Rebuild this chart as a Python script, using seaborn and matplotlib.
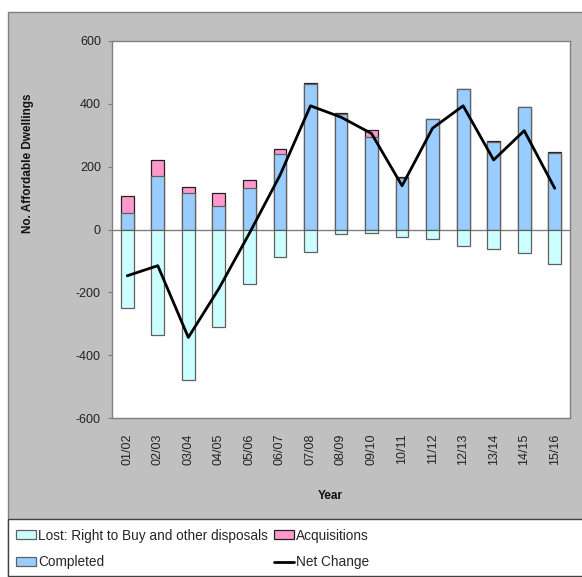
import numpy as np
import pandas as pd
import matplotlib
matplotlib.use("Agg")
import matplotlib.pyplot as plt
import seaborn as sns
from matplotlib.patches import Rectangle, Patch
from matplotlib.lines import Line2D

# Affordable dwellings by financial year
years = ["01/02", "02/03", "03/04", "04/05", "05/06", "06/07", "07/08", "08/09",
         "09/10", "10/11", "11/12", "12/13", "13/14", "14/15", "15/16"]
completed = [53, 170, 116, 76, 133, 240, 462, 368, 295, 163, 350, 445, 279, 389, 242]
acquisitions = [55, 50, 20, 40, 23, 15, 3, 3, 20, 3, 0, 3, 3, 0, 3]
lost = [-251, -335, -478, -309, -173, -87, -71, -13, -11, -25, -29, -51, -62, -74, -110]
net_change = [-147, -115, -343, -188, -12, 172, 393, 357, 305, 139, 322, 393, 221, 314, 131]

C_LOST = "#CCFFFF"
C_DONE = "#99CCFF"
C_ACQ = "#FF99CC"
GREY = "#C0C0C0"
EDGE = "#606060"

sns.set_theme(style="white")
plt.rcParams["font.family"] = ["Liberation Sans", "DejaVu Sans"]
plt.rcParams["axes.unicode_minus"] = False

W, H = 582, 577
fig = plt.figure(figsize=(W / 100, H / 100), dpi=100, facecolor="white")

# grey chart-area panel
fig.patches.append(Rectangle((8 / W, 0), 1.0, 1 - 12 / H, transform=fig.transFigure,
                             facecolor=GREY, edgecolor="#808080", linewidth=1.0,
                             zorder=-2))
# white legend panel along the bottom
fig.patches.append(Rectangle((8 / W, 1 / H), 1.0, (576 - 519) / H,
                             transform=fig.transFigure, facecolor="white",
                             edgecolor="#404040", linewidth=1.0, zorder=-1))

ax = fig.add_axes([112 / W, 1 - 418.3 / H, (570 - 112) / W, (418.3 - 40.7) / H])
ax.set_zorder(1)
ax.set_facecolor("white")

df = pd.DataFrame({"year": years, "completed": completed,
                   "acquisitions": acquisitions, "lost": lost,
                   "net": net_change})
df["stack_top"] = df["completed"] + df["acquisitions"]

ax.axhline(0, color="#808080", linewidth=1.0, zorder=0.5)

bar_kw = dict(width=0.42, saturation=1, errorbar=None, ax=ax, linewidth=0.9)
sns.barplot(data=df, x="year", y="stack_top", color=C_ACQ, edgecolor="#202020", **bar_kw)
sns.barplot(data=df, x="year", y="completed", color=C_DONE, edgecolor=EDGE, **bar_kw)
sns.barplot(data=df, x="year", y="lost", color=C_LOST, edgecolor=EDGE, **bar_kw)
sns.lineplot(x=np.arange(len(years)), y=df["net"], color="black", linewidth=2.0,
             ax=ax, zorder=5)

ax.set_xlim(-0.5, len(years) - 0.5)
ax.set_ylim(-600, 600)
ax.set_yticks(range(-600, 601, 200))
ax.set_xticks(range(len(years)))
ax.set_xticklabels(years, rotation=90, fontsize=9, color="#222222")
ax.tick_params(axis="y", labelsize=9, labelcolor="#222222", left=True,
               length=3, width=0.8, color="#808080", pad=5)
ax.tick_params(axis="x", bottom=False, pad=5)
ax.set_xlabel("")
ax.set_ylabel("")
for s in ax.spines.values():
    s.set_color("#808080")
    s.set_linewidth(1.0)

fig.text(28 / W, 1 - 163 / H, "No. Affordable Dwellings", rotation=90,
         ha="center", va="center", fontsize=8.5, fontweight="bold", color="#111111")
fig.text(330 / W, 1 - 496 / H, "Year", ha="center", va="center",
         fontsize=8.5, fontweight="bold", color="#111111")

handles = [
    Patch(facecolor=C_LOST, edgecolor=EDGE, linewidth=0.9),
    Patch(facecolor=C_DONE, edgecolor=EDGE, linewidth=0.9),
    Patch(facecolor=C_ACQ, edgecolor="#202020", linewidth=0.9),
    Line2D([0], [0], color="black", linewidth=2.0),
]
labels = ["Lost: Right to Buy and other disposals", "Completed",
          "Acquisitions", "Net Change"]
leg = fig.legend(handles, labels, ncol=2, loc="upper left",
                 bbox_to_anchor=(6 / W, 1 - 519 / H),
                 fontsize=9.8, frameon=False, borderpad=0.7,
                 labelspacing=0.95, handlelength=1.5, handleheight=0.6,
                 handletextpad=0.15, columnspacing=0.45, borderaxespad=0)

fig.savefig("out.png", dpi=100, facecolor=fig.get_facecolor())
